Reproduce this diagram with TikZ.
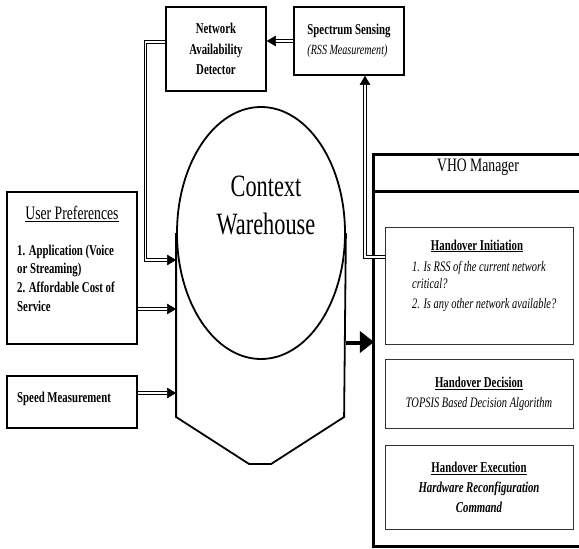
\documentclass[tikz,border=0pt]{standalone}
\usepackage{fontspec}
\setmainfont{Liberation Serif}[FakeStretch=0.72]
\usepackage{tikz}
\usetikzlibrary{
  shapes.geometric, arrows.meta, calc
}
\tikzset{
  blockbox/.style={
    draw, line width=1.6pt, inner sep=0pt, align=center,
    font=\fontsize{15}{20.5}\selectfont\bfseries
  },
  stagebox/.style={
    draw=black!80, line width=1pt, inner sep=0pt, align=center,
    minimum width=188pt, font=\fontsize{15}{20}\selectfont
  },
  itemtext/.style={
    inner sep=0pt, align=left, anchor=north west
  },
  titletext/.style={
    inner sep=0pt, font=\fontsize{19}{22}\selectfont
  },
  vhoframe/.style={line width=3pt},
  whline/.style={line width=1.8pt},
  % double line: black stroke with a white core, solid tip
  dblarrow/.style={
    line width=3.2pt,
    -{Triangle[length=9pt, width=10.5pt, line width=0.4pt]},
    postaction={draw=white, line width=1.3pt, shorten >=9pt, arrows=-}
  },
  bigarrow/.style={
    line width=5pt,
    -{Triangle[length=14pt, width=22pt, line width=0.4pt]},
    postaction={draw=white, line width=1.1pt, shorten >=14pt, arrows=-,
      transform canvas={yshift=1.2pt}}
  },
}

\begin{document}
\begin{tikzpicture}[x=1pt, y=-1pt]
  \useasboundingbox (0,0) rectangle (579,549);

  % Top row
  \node[blockbox, minimum width=100pt, minimum height=84pt] (nad)
    at (216, 49) {Network\\Availability\\Detector};
  \node[blockbox, minimum width=110pt, minimum height=68pt, align=left] (sense)
    at (349, 41)
    {Spectrum Sensing\\[-1pt]{\fontsize{14}{18}\selectfont\mdseries\itshape (RSS Measurement)}};

  % Left inputs
  \node[blockbox, minimum width=130pt, minimum height=152pt] (userpref)
    at (72, 268) {};
  \node[titletext] (uptitle) at (72, 214) {\underline{User Preferences}};
  \node[itemtext, font=\fontsize{15}{18.7}\selectfont\bfseries] (upitems)
    at (17, 244.5)
    {1. Application (Voice\\or Streaming)\\2. Affordable Cost of\\Service};
  \node[blockbox, minimum width=130pt, minimum height=52pt, align=left] (speed)
    at (72, 402) {};
  \node[inner sep=0pt, anchor=base west, font=\fontsize{15}{18}\selectfont\bfseries]
    (speedtext) at (17, 402) {Speed Measurement};

  % Context warehouse
  \node[ellipse, draw, whline, minimum width=168pt, minimum height=252pt,
    inner sep=0pt] (wh) at (261, 233) {};
  \draw[whline] (wh.west) -- ++(0,184) -- ++(73,47) -- ++(22,0)
    -- ++(73,-47) -- (wh.east);
  \node[inner sep=0pt, align=center, font=\fontsize{31}{38}\selectfont]
    (whtext) at (266, 205) {Context\\Warehouse};

  % VHO manager
  \node[minimum width=205pt, minimum height=391pt, inner sep=0pt] (vho)
    at (476.5, 350.5) {};
  \draw[vhoframe] (vho.north east) -- (vho.north west) -- (vho.south west)
    -- (vho.south east);
  \draw[vhoframe] ([yshift=-37pt]vho.north west)
    -- ([yshift=-37pt]vho.north east);
  \node[titletext] (vhotitle) at (478, 167) {VHO Manager};

  \node[stagebox, minimum height=117pt] (hoinit) at (479, 285.5) {};
  \node[inner sep=0pt, anchor=base, font=\fontsize{15}{18}\selectfont\bfseries]
    (hoinitT) at (477, 250) {\underline{Handover Initiation}};
  \node[itemtext, font=\fontsize{14.5}{17}\selectfont\itshape] (hoinitI)
    at (412, 261)
    {1. Is RSS of the current network\\critical?\\[3pt]2. Is any other network available?};
  \node[stagebox, minimum height=69pt] (hodec) at (479, 393.5)
    {\underline{\textbf{Handover Decision}}\\{\fontsize{14.5}{20}\selectfont\itshape TOPSIS Based Decision Algorithm}};
  \node[stagebox, minimum height=84pt] (hoexec) at (479, 487)
    {\underline{\textbf{Handover Execution}}\\{\bfseries\itshape Hardware Reconfiguration}\\{\bfseries\itshape Command}};

  % Connectors
  \draw[dblarrow] (sense.west) -- (sense.west -| nad.east);
  \draw[dblarrow] ([yshift=7pt]nad.west) -- ++(-20,0)
    |- ([yshift=-27pt]wh.west);
  \draw[dblarrow] ([yshift=-41pt]userpref.east)
    -- ([yshift=-41pt]userpref.east -| wh.west);
  \draw[dblarrow] ([yshift=9pt]speed.east)
    -- ([yshift=9pt]speed.east -| wh.west);
  \draw[dblarrow] ([yshift=28.5pt]hoinit.west) -| ([xshift=16pt]sense.south);
  \draw[bigarrow] ([yshift=-109pt]wh.east)
    -- ([yshift=-109pt]wh.east -| vho.west);
\end{tikzpicture}
\end{document}
